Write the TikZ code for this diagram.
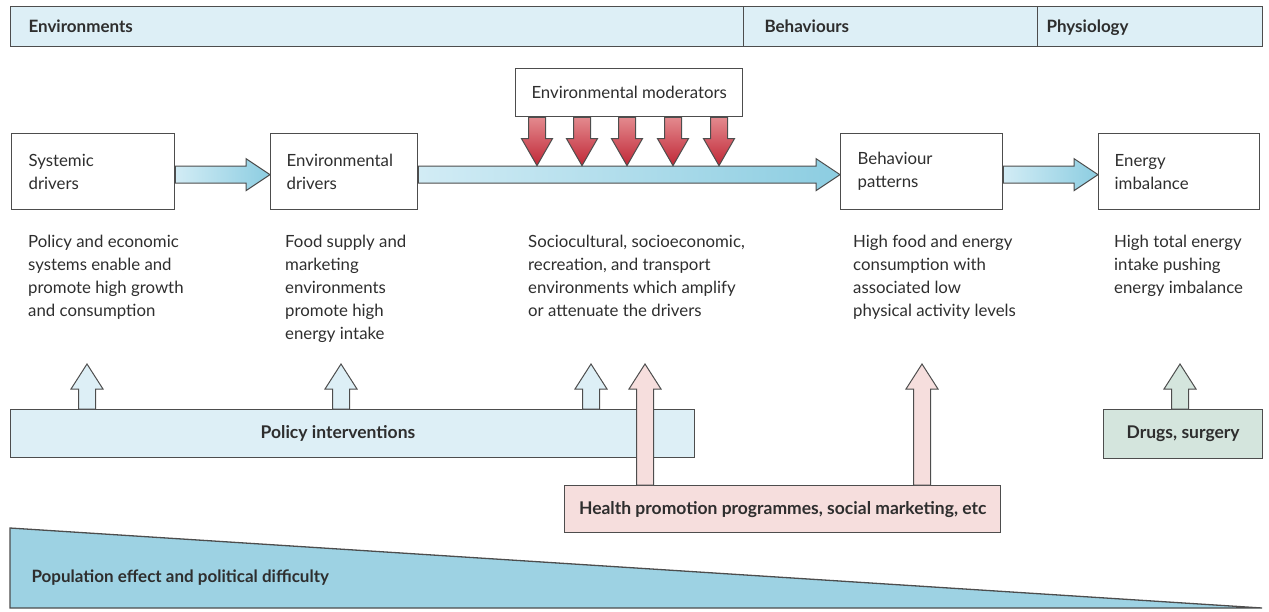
\documentclass[tikz,border=0pt]{standalone}
\usepackage{fontspec}
\setmainfont{Lato}
\usetikzlibrary{calc}

\definecolor{ink}{HTML}{2E2E2E}
\definecolor{rule}{HTML}{4D4D4D}
\definecolor{hdrfill}{HTML}{DDEFF6}
\definecolor{bluelight}{HTML}{D2ECF5}
\definecolor{bluedark}{HTML}{8CCDE1}
\definecolor{redlight}{HTML}{E3898E}
\definecolor{reddark}{HTML}{C02836}
\definecolor{pinkfill}{HTML}{F6DEDD}
\definecolor{drugfill}{HTML}{D4E5DD}
\definecolor{wedge}{HTML}{9DD2E3}

\tikzset{
  frame/.style={draw=rule, line width=1.3pt},
  stagebox/.style={frame, fill=white, minimum width=163pt, minimum height=76pt,
    text width=129pt, align=left, inner xsep=0pt, font=\fontsize{16.8}{23}\selectfont, text=ink},
  desc/.style={anchor=north west, align=left, inner sep=0pt,
    font=\fontsize{16.8}{23}\selectfont, text=ink},
  hdr/.style={anchor=base west, font=\bfseries\fontsize{17}{19}\selectfont, text=ink},
  barlabel/.style={font=\bfseries\fontsize{17.5}{19}\selectfont, text=ink},
  bluearr/.style={draw=rule, line width=1pt, left color=bluelight, right color=bluedark},
  redarr/.style={draw=rule, line width=1pt, top color=redlight, bottom color=reddark},
  upblue/.style={draw=rule, line width=1pt, fill=hdrfill},
  uppink/.style={draw=rule, line width=1pt, fill=pinkfill},
  updrug/.style={draw=rule, line width=1pt, fill=drugfill},
}

% block arrow pointing right: #1 start, #2 tip, #3 style
\newcommand\blockright[3]{%
  \path[#3] let \p1=(#1), \p2=(#2) in
    (\x1,\y1+8.5pt) -- (\x2-24pt,\y1+8.5pt) -- (\x2-24pt,\y1+16pt) -- (\x2,\y1)
    -- (\x2-24pt,\y1-16pt) -- (\x2-24pt,\y1-8.5pt) -- (\x1,\y1-8.5pt) -- cycle;}
% block arrow pointing up: #1 base, #2 tip, #3 style
\newcommand\blockup[3]{%
  \path[#3] let \p1=(#1), \p2=(#2) in
    (\x1-8.5pt,\y1) -- (\x1-8.5pt,\y2-25pt) -- (\x1-16pt,\y2-25pt) -- (\x1,\y2)
    -- (\x1+16pt,\y2-25pt) -- (\x1+8.5pt,\y2-25pt) -- (\x1+8.5pt,\y1) -- cycle;}
% block arrow pointing down: #1 base, #2 tip, #3 style
\newcommand\blockdown[3]{%
  \path[#3] let \p1=(#1), \p2=(#2) in
    (\x1-8.5pt,\y1) -- (\x1-8.5pt,\y2+27pt) -- (\x1-15.5pt,\y2+27pt) -- (\x1,\y2)
    -- (\x1+15.5pt,\y2+27pt) -- (\x1+8.5pt,\y2+27pt) -- (\x1+8.5pt,\y1) -- cycle;}

\begin{document}
\begin{tikzpicture}[x=1pt, y=-1pt]
\useasboundingbox (0,0) rectangle (1269,611);

% header band with three sections
\node[frame, fill=hdrfill, anchor=north west, minimum width=1252pt, minimum height=40pt,
  inner sep=0pt] (band) at (10,6) {};
\draw[rule, line width=1pt] (743,6) -- (743,46);
\draw[rule, line width=1pt] (1037,6) -- (1037,46);
\node[hdr] (hEnv) at (25,32) {Environments};
\node[hdr] (hBeh) at (761,32) {Behaviours};
\node[hdr] (hPhy) at (1043,32) {Physiology};

% stage boxes
\node[stagebox, anchor=north west] (sys) at (11,133) {Systemic\\drivers};
\node[stagebox, anchor=north west, minimum width=147pt, text width=115pt] (envd) at (270,133) {Environmental\\drivers};
\node[stagebox, anchor=north west, minimum width=162pt, text width=128pt] (beh) at (840,133) {Behaviour\\patterns};
\node[stagebox, anchor=north west, minimum width=161pt, text width=129pt] (nrg) at (1098,133) {Energy\\imbalance};

% moderator box
\node[frame, fill=white, anchor=north west, minimum width=227pt, minimum height=48pt,
  font=\fontsize{16.8}{19}\selectfont, text=ink] (mod) at (515,68) {Environmental moderators};

% horizontal flow arrows
\coordinate (a1s) at ($(sys.east)+(0,3)$);
\coordinate (a1e) at ($(envd.west)+(0,3)$);
\blockright{a1s}{a1e}{bluearr}
\coordinate (a2s) at ($(envd.east)+(0,3)$);
\coordinate (a2e) at ($(beh.west)+(0,3)$);
\blockright{a2s}{a2e}{bluearr}
\coordinate (a3s) at ($(beh.east)+(0,3)$);
\coordinate (a3e) at ($(nrg.west)+(0,3)$);
\blockright{a3s}{a3e}{bluearr}

% moderating arrows onto the main flow
\foreach \dx [count=\i] in {22,67,112,158,204} {
  \coordinate (m\i s) at ($(mod.south west)+(\dx,0)$);
  \coordinate (m\i e) at ($(a2s)+(\dx+98,-9)$);
  \blockdown{m\i s}{m\i e}{redarr}
}

% descriptions
\node[desc] (d1) at (28,235) {Policy and economic\\systems enable and\\promote high growth\\and consumption};
\node[desc] (d2) at (285,235) {Food supply and\\marketing\\environments\\promote high\\energy intake};
\node[desc] (d3) at (528,235) {Sociocultural, socioeconomic,\\recreation, and transport\\environments which amplify\\or attenuate the drivers};
\node[desc] (d4) at (853,235) {High food and energy\\consumption with\\associated low\\physical activity levels};
\node[desc] (d5) at (1114,235) {High total energy\\intake pushing\\energy imbalance};

% intervention bars
\node[frame, fill=hdrfill, anchor=north west, minimum width=684pt, minimum height=48pt,
  inner sep=0pt] (pol) at (10,409) {};
\node[barlabel] (polt) at (338,433) {Policy interventions};
\node[frame, fill=pinkfill, anchor=north west, minimum width=436pt, minimum height=47pt,
  inner sep=0pt, barlabel] (hp) at (564,485) {Health promotion programmes, social marketing, etc};
\node[frame, fill=drugfill, anchor=north west, minimum width=159pt, minimum height=49pt,
  inner sep=0pt, barlabel] (drg) at (1103,409) {Drugs, surgery};

% upward intervention arrows
\coordinate (p1b) at (pol.north west -| 87,0);
\coordinate (p1t) at ($(p1b)+(0,-45)$);
\blockup{p1b}{p1t}{upblue}
\coordinate (p2b) at (pol.north west -| 341,0);
\coordinate (p2t) at ($(p2b)+(0,-45)$);
\blockup{p2b}{p2t}{upblue}
\coordinate (p3b) at (pol.north west -| 591,0);
\coordinate (p3t) at ($(p3b)+(0,-45)$);
\blockup{p3b}{p3t}{upblue}
\coordinate (h1b) at (hp.north west -| 645,0);
\coordinate (h1t) at (p1t -| 645,0);
\blockup{h1b}{h1t}{uppink}
\coordinate (h2b) at (hp.north west -| 922,0);
\coordinate (h2t) at (p1t -| 922,0);
\blockup{h2b}{h2t}{uppink}
\coordinate (g1b) at (drg.north west -| 1180,0);
\coordinate (g1t) at (p1t -| 1180,0);
\blockup{g1b}{g1t}{updrug}

% population effect wedge
\coordinate (w1) at (10,528);
\coordinate (w2) at (10,608);
\coordinate (w3) at (1262,608);
\filldraw[fill=wedge, draw=rule, line width=1.3pt] (w1) -- (w2) -- (w3) -- cycle;
\node[anchor=west, text=ink, font=\bfseries\fontsize{17}{19}\selectfont] (popt) at (28,578)
  {Population effect and political difficulty};
\end{tikzpicture}
\end{document}
